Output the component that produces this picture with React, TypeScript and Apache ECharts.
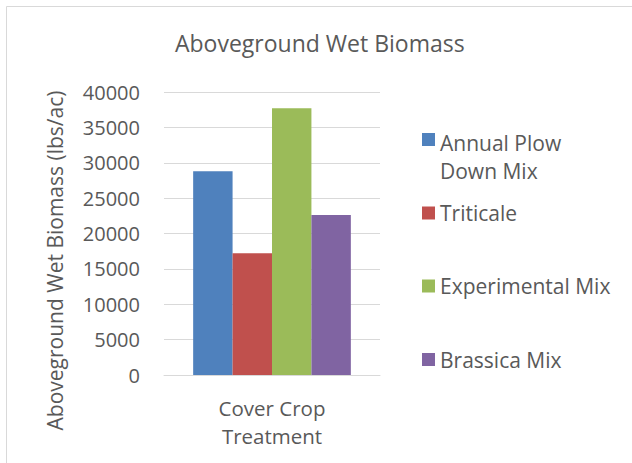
import React, { useEffect, useRef } from "react";
import * as echarts from "echarts";

const titleText = "Aboveground Wet Biomass";
const yAxisTitle = "Aboveground Wet Biomass (lbs/ac)";
const categories = ["Cover Crop\nTreatment"];
const seriesNames = ["Annual Plow Down Mix", "Triticale", "Experimental Mix", "Brassica Mix"];
const seriesValues = [28800, 17200, 37700, 22600];
const seriesColors = ["#4F81BD", "#C0504D", "#9BBB59", "#8064A2"];
const legendLabels = ["Annual Plow\nDown Mix", "Triticale", "Experimental Mix", "Brassica Mix"];
const yMin = 0;
const yMax = 40000;
const yInterval = 5000;

const FONT = "Open Sans";
const TXT = "#595959";

export default function App() {
  const ref = useRef<HTMLDivElement>(null);
  useEffect(() => {
    if (!ref.current) return;
    const chart = echarts.init(ref.current, null, { renderer: "svg" });
    const legendTops = [128.5, 202.5, 275.5, 349];
    const legends = seriesNames.map((name, i) => {
      const first = i === 0;
      return {
        data: [name],
        left: 422,
        top: legendTops[i],
        padding: 0,
        itemWidth: 13,
        itemHeight: first ? 47 : 13,
        icon: first ? "path://M0,0H13V13H0Z M0,46.99H0.01V47H0Z" : "rect",
        formatter: () => legendLabels[i],
        textStyle: { fontSize: 21, color: TXT, fontFamily: FONT, lineHeight: first ? 28 : 21 },
        selectedMode: false,
      };
    });
    chart.setOption({
      animation: false,
      backgroundColor: "#ffffff",
      title: {
        text: titleText,
        left: 175,
        top: 31,
        padding: 0,
        textStyle: { fontSize: 23, fontWeight: "normal", color: TXT, fontFamily: FONT },
      },
      legend: legends,
      grid: { left: 164, right: 252, top: 92, bottom: 88 },
      xAxis: {
        type: "category",
        data: categories,
        axisLine: { show: true, lineStyle: { color: "#d9d9d9", width: 1 } },
        axisTick: { show: false },
        axisLabel: { fontSize: 20.5, lineHeight: 28, color: TXT, fontFamily: FONT, margin: 18.5 },
      },
      yAxis: {
        type: "value",
        min: yMin,
        max: yMax,
        interval: yInterval,
        axisLine: { show: false },
        axisTick: { show: false },
        splitLine: { lineStyle: { color: "#d9d9d9", width: 1 } },
        axisLabel: {
          fontSize: 20,
          color: TXT,
          fontFamily: FONT,
          margin: 24,
          formatter: (v: number) => String(v),
        },
      },
      series: seriesNames.map((name, i) => ({
        name,
        type: "bar",
        data: [seriesValues[i]],
        itemStyle: { color: seriesColors[i] },
        barGap: "0%",
        barCategoryGap: "27%",
      })),
      graphic: [
        {
          type: "rect",
          shape: { x: 6.5, y: 6.5, width: 700, height: 500 },
          style: { fill: "none", stroke: "#d9d9d9", lineWidth: 1 },
          silent: true,
        },
        {
          type: "text",
          x: 55,
          y: 260.5,
          rotation: Math.PI / 2,
          style: {
            text: yAxisTitle,
            fontSize: 21,
            fontFamily: FONT,
            fill: TXT,
            align: "center",
            verticalAlign: "middle",
          },
        },
      ],
    });
    return () => chart.dispose();
  }, []);
  return (
    <div
      ref={ref}
      style={{ position: "fixed", left: 0, top: 0, width: 632, height: 463 }}
    />
  );
}
